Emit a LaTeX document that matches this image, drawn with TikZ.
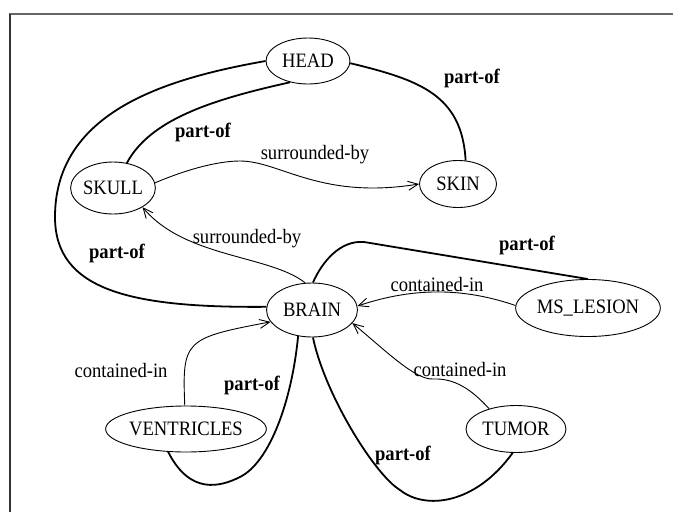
\documentclass[tikz,border=0pt]{standalone}
\usepackage{fontspec}
\usepackage{graphicx}
\setmainfont{Liberation Serif}
\usetikzlibrary{shapes.geometric,arrows.meta}
\newcommand{\tallt}[1]{\scalebox{1}[1.1]{#1}}
\begin{document}
\begin{tikzpicture}[x=1pt,y=-1pt,
  every node/.style={font=\fontsize{18.6}{22}\selectfont},
  ent/.style={ellipse,draw,line width=0.9pt,inner sep=0pt},
  partof/.style={line width=1.8pt},
  rel/.style={line width=0.9pt,-{Straight Barb[length=10pt,width=9pt,line width=0.9pt]}},
  plab/.style={font=\fontsize{18.6}{22}\selectfont\bfseries},
  rlab/.style={font=\fontsize{18.6}{22}\selectfont}]
\useasboundingbox (0,0) rectangle (673,512);
% frame
\draw[line width=1.4pt,black!60] (10,512) coordinate (fbl) -- (10,14) coordinate (ftl) -- (673,14) coordinate (ftr);
\draw[line width=1.4pt,black!80] (fbl) -- (ftl);
% nodes
\node[ent,minimum width=84pt,minimum height=46pt] (head) at (308,61) {\tallt{HEAD}};
\node[ent,minimum width=78pt,minimum height=52pt] (skull) at (113,188) {\tallt{SKULL}};
\node[ent,minimum width=77pt,minimum height=47pt] (skin) at (458,184) {\tallt{SKIN}};
\node[ent,minimum width=91pt,minimum height=54pt] (brain) at (312,310) {\tallt{BRAIN}};
\node[ent,minimum width=138pt,minimum height=57pt] (ms) at (588,308) {\tallt{MS\_LESION}};
\node[ent,minimum width=145pt,minimum height=46pt] (vent) at (186,429) {\tallt{VENTRICLES}};
\node[ent,minimum width=100pt,minimum height=47pt] (tumor) at (516,429) {\tallt{TUMOR}};
% part-of edges
\draw[partof] (head.-3) .. controls (420,80) and (462,95) .. (skin.72);
\draw[partof] (head.-130) .. controls (210,100) and (150,120) .. (skull.61);
\draw[partof] (head.180) .. controls (170,78) and (55,110) .. (55,217)
   .. controls (55,290) and (130,308) .. (brain.176);
\draw[partof] (brain.88) .. controls (322,262) and (340,240) .. (364,242) -- (ms.90);
\draw[partof] (brain.-118) .. controls (292,400) and (270,462) .. (240,477)
   .. controls (220,487) and (190,495) .. (vent.-128);
\draw[partof] (brain.-88) .. controls (325,395) and (375,475) .. (400,490)
   .. controls (425,510) and (475,505) .. (tumor.-98);
% relation edges
\draw[rel] (skull.7) .. controls (190,168) and (220,161) .. (240,161)
   .. controls (280,161) and (320,200) .. (skin.180);
\draw[rel] (brain.104) .. controls (270,255) and (185,258) .. (skull.-33);
\draw[rel] (ms.178) .. controls (470,290) and (420,285) .. (brain.5);
\draw[rel] (vent.93) .. controls (182,340) and (185,338) .. (brain.-164);
\draw[rel] (tumor.143) .. controls (472,390) and (455,378) .. (433,379)
   .. controls (415,380) and (385,350) .. (brain.-18);
% labels
\node[plab] (l1) at (472,78) {\tallt{part-of}};
\node[plab] (l2) at (203,132) {\tallt{part-of}};
\node[plab] (l3) at (117,253) {\tallt{part-of}};
\node[plab] (l4) at (527,245) {\tallt{part-of}};
\node[plab] (l5) at (252,385) {\tallt{part-of}};
\node[plab] (l6) at (403,455) {\tallt{part-of}};
\node[rlab] (r1) at (315,155) {\tallt{surrounded-by}};
\node[rlab] (r2) at (247,239) {\tallt{surrounded-by}};
\node[rlab] (r3) at (437,284) {\tallt{contained-in}};
\node[rlab] (r4) at (121,370) {\tallt{contained-in}};
\node[rlab] (r5) at (460,369) {\tallt{contained-in}};
\end{tikzpicture}
\end{document}
